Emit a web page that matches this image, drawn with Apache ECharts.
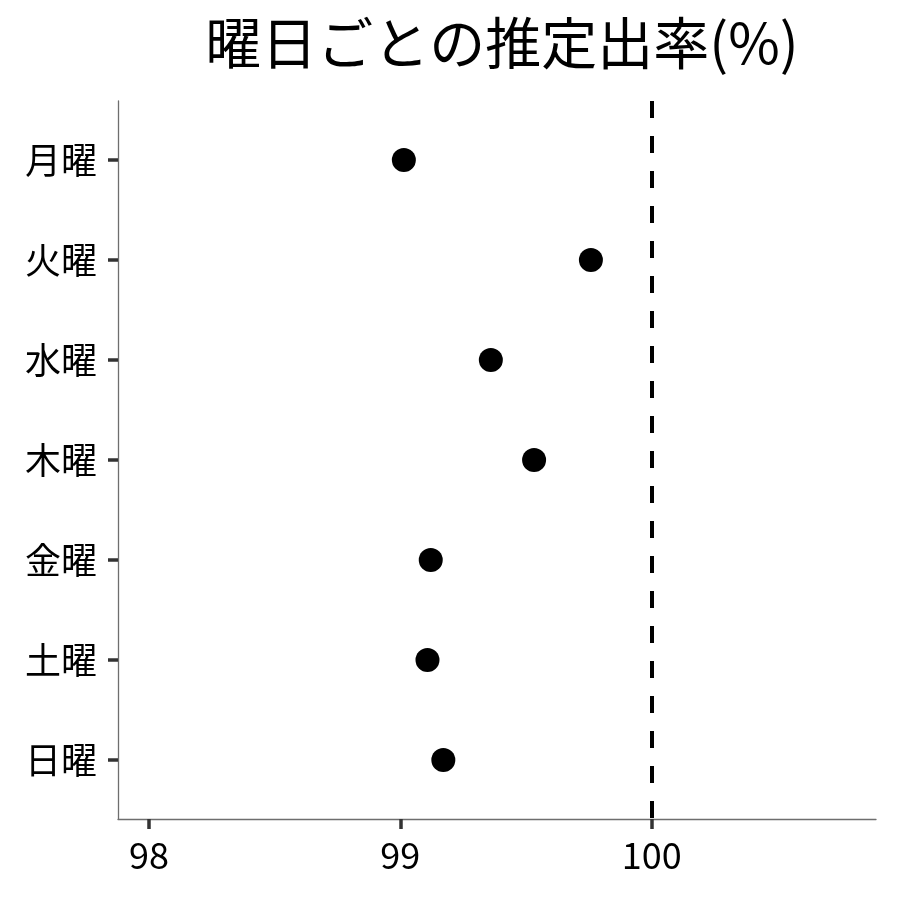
<!DOCTYPE html>
<html>
<head>
<meta charset="utf-8">
<script src="https://cdn.jsdelivr.net/npm/echarts@6/dist/echarts.min.js"></script>
<style>html,body{margin:0;padding:0;background:#fff}#c{width:900px;height:900px}</style>
</head>
<body>
<div id="c"></div>
<script>
var titleText = '曜日ごとの推定出率(%)';
var categories = ['月曜', '火曜', '水曜', '木曜', '金曜', '土曜', '日曜'];
var values = [99.014, 99.758, 99.360, 99.532, 99.121, 99.108, 99.171];
var xTicks = [98, 99, 100];
var refValue = 100;

var font = '"Noto Sans CJK JP", "Noto Sans", sans-serif';
var chart = echarts.init(document.getElementById('c'), null, {renderer: 'canvas'});
var pos = categories.map(function (c, i) { return i + 1; });
var pts = values.map(function (v, i) { return [v, pos[i]]; });

chart.setOption({
  animation: false,
  backgroundColor: '#fff',
  title: {
    text: titleText,
    left: 497, top: 10, textAlign: 'center',
    textStyle: {fontFamily: font, fontSize: 56, fontWeight: 'normal', color: '#000'}
  },
  grid: {left: 118, right: 24, top: 101, bottom: 81, containLabel: false},
  xAxis: {
    type: 'value', min: 97.877, max: 100.892,
    axisLine: {show: true, lineStyle: {color: '#6e6e6e', width: 1.3}},
    axisTick: {show: true, customValues: xTicks, length: 10, lineStyle: {color: '#333', width: 3.5}},
    axisLabel: {show: true, customValues: xTicks, margin: 18, color: '#000', fontFamily: font, fontSize: 36},
    splitLine: {show: false}
  },
  yAxis: {
    type: 'value', inverse: true, min: 0.41, max: 7.59,
    axisLine: {show: true, lineStyle: {color: '#6e6e6e', width: 1.3}},
    axisTick: {show: true, customValues: pos, length: 10, lineStyle: {color: '#333', width: 3.5}},
    axisLabel: {
      show: true, customValues: pos, margin: 21, color: '#000', fontFamily: font, fontSize: 36,
      formatter: function (v) { return categories[Math.round(v) - 1] || ''; }
    },
    splitLine: {show: false}
  },
  series: [{
    type: 'scatter',
    data: pts,
    symbol: 'circle',
    symbolSize: 24,
    itemStyle: {color: '#000', opacity: 1},
    markLine: {
      silent: true, symbol: 'none', animation: false,
      label: {show: false},
      lineStyle: {color: '#000', width: 4, type: [17, 18], opacity: 1},
      data: [{xAxis: refValue}]
    }
  }]
});
</script>
</body>
</html>
